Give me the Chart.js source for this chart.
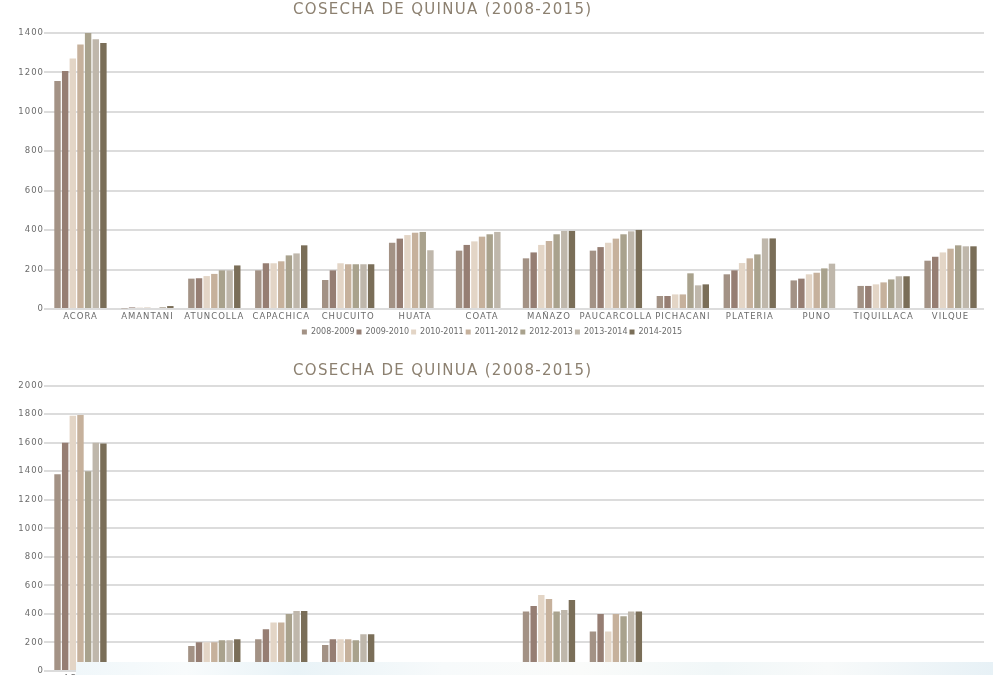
<!DOCTYPE html>
<html>
<head>
<meta charset="utf-8">
<script src="https://cdn.jsdelivr.net/npm/chart.js@4"></script>
<style>
  html, body { margin: 0; padding: 0; background: #fff; overflow: hidden; }
  body { width: 993px; height: 675px; position: relative; }
  .caja { position: absolute; left: 0; width: 993px; }
  #caja1 { top: 0; height: 346px; }
  #caja2 { top: 348px; height: 360px; }
  .titulo {
    position: absolute; left: 293px; width: 320px; white-space: nowrap;
    font-family: 'DejaVu Sans', sans-serif; font-size: 15px; letter-spacing: 1.3px;
    color: #8c8070; line-height: 18px;
  }
  #titulo1 { top: 0px; }
  #titulo2 { top: 361px; }
  #franja {
    position: absolute; left: 76px; right: 0; top: 662px; bottom: 0;
    background: linear-gradient(90deg, #f0f7fa 0%, #f8fbfc 12%, #e9f3f7 24%, #f7fafb 40%, #fafbfa 55%, #f1f7f8 70%, #f8fafa 82%, #e7f1f6 100%);
  }
</style>
</head>
<body>
<div class="caja" id="caja1"><canvas id="cosecha1"></canvas></div>
<div class="caja" id="caja2"><canvas id="cosecha2"></canvas></div>
<div class="titulo" id="titulo1">COSECHA DE QUINUA (2008-2015)</div>
<div class="titulo" id="titulo2">COSECHA DE QUINUA (2008-2015)</div>
<div id="franja"></div>
<script>
var distritos = ["ACORA","AMANTANI","ATUNCOLLA","CAPACHICA","CHUCUITO","HUATA","COATA","MAÑAZO","PAUCARCOLLA","PICHACANI","PLATERIA","PUNO","TIQUILLACA","VILQUE"];
var campanias = ["2008-2009","2009-2010","2010-2011","2011-2012","2012-2013","2013-2014","2014-2015"];
var colores = ["#a39285","#967e73","#e3d5c6","#c6b19c","#a9a28d","#bfb7ab","#7a6e58"];

// primer grafico
var c1_0809 = [1156, 3, 154, 196, 147, 336, 296, 257, 296, 66, 176, 145, 117, 245];
var c1_0910 = [1207, 8, 156, 232, 196, 357, 325, 287, 314, 66, 196, 154, 117, 265];
var c1_1011 = [1271, 7, 167, 232, 232, 375, 343, 325, 336, 74, 233, 176, 125, 287];
var c1_1112 = [1342, 7, 178, 242, 227, 387, 367, 345, 357, 74, 257, 184, 135, 306];
var c1_1213 = [1400, 5, 196, 272, 227, 391, 379, 379, 379, 181, 277, 206, 150, 323];
var c1_1314 = [1368, 10, 196, 282, 227, 298, 391, 396, 394, 120, 358, 230, 166, 318];
var c1_1415 = [1349, 15, 221, 323, 227, null, null, 396, 401, 125, 358, null, 166, 318];

// segundo grafico
var c2_0809 = [1380, null, 176, 223, 183, null, null, 417, 277, null, null, null, null, null];
var c2_0910 = [1600, null, 202, 293, 223, null, null, 455, 399, null, null, null, null, null];
var c2_1011 = [1790, null, 202, 340, 223, null, null, 532, 277, null, null, null, null, null];
var c2_1112 = [1795, null, 202, 340, 223, null, null, 504, 399, null, null, null, null, null];
var c2_1213 = [1400, null, 216, 399, 216, null, null, 417, 384, null, null, null, null, null];
var c2_1314 = [1600, null, 216, 420, 258, null, null, 427, 417, null, null, null, null, null];
var c2_1415 = [1595, null, 223, 420, 258, null, null, 497, 417, null, null, null, null, null];

var fuente = "'DejaVu Sans', sans-serif";

// los ticks se dibujan despues de las barras (z:1) y con letras espaciadas
var espaciado = {
  id: 'espaciado',
  beforeDraw: function(chart) { chart.ctx.letterSpacing = '0px'; },
  afterDatasetsDraw: function(chart) { chart.ctx.letterSpacing = '1px'; },
  afterDraw: function(chart) { chart.ctx.letterSpacing = '0px'; }
};

function armarSeries(valores) {
  return valores.map(function(v, i) {
    return {
      label: campanias[i],
      data: v,
      backgroundColor: colores[i],
      borderWidth: 0,
      categoryPercentage: 0.8,
      barPercentage: 0.84
    };
  });
}

function crearGrafico(id, valores, maximo, arriba) {
  var ctx = document.getElementById(id);
  return new Chart(ctx, {
    type: 'bar',
    data: { labels: distritos, datasets: armarSeries(valores) },
    plugins: [espaciado],
    options: {
      responsive: true,
      maintainAspectRatio: false,
      animation: false,
      layout: { padding: { left: 0, right: 9, top: arriba, bottom: 0 } },
      plugins: {
        title: { display: false },
        legend: {
          position: 'bottom',
          labels: {
            usePointStyle: true,
            pointStyle: 'rect',
            boxWidth: 5,
            boxHeight: 5,
            padding: 2,
            color: '#6b6b6b',
            font: { family: fuente, size: 8 }
          }
        },
        tooltip: { enabled: false }
      },
      scales: {
        x: {
          grid: { display: false, drawTicks: false },
          border: { display: false },
          afterFit: function(scale) { scale.height = 17; },
          ticks: {
            z: 1,
            autoSkip: false,
            maxRotation: 0,
            minRotation: 0,
            padding: 3,
            color: '#6b6b6b',
            font: { family: fuente, size: 8.5 }
          }
        },
        y: {
          min: 0,
          max: maximo,
          afterFit: function(scale) { scale.width = 47; },
          border: { display: false },
          grid: { color: '#dcdcdc', lineWidth: 2, tickLength: 3 },
          ticks: {
            z: 1,
            stepSize: 200,
            padding: 0,
            color: '#6b6b6b',
            font: { family: fuente, size: 8.5 },
            callback: function(valor) { return String(valor); }
          }
        }
      }
    }
  });
}

crearGrafico('cosecha1', [c1_0809, c1_0910, c1_1011, c1_1112, c1_1213, c1_1314, c1_1415], 1400, 33);
crearGrafico('cosecha2', [c2_0809, c2_0910, c2_1011, c2_1112, c2_1213, c2_1314, c2_1415], 2000, 37.7);
</script>
</body>
</html>
